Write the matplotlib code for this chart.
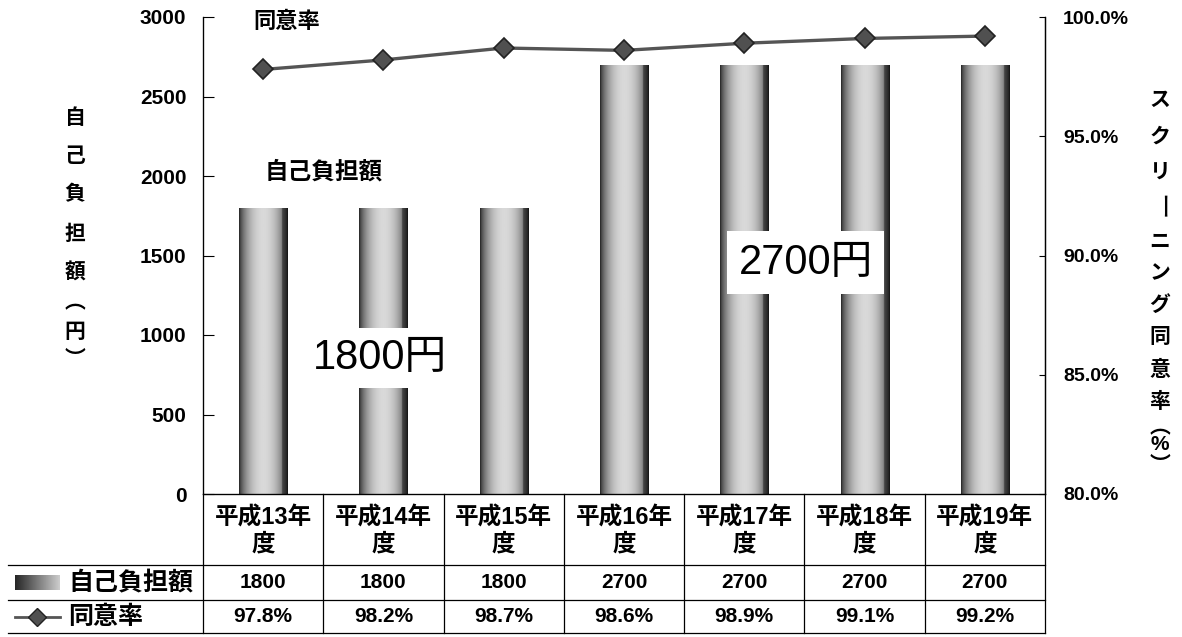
import numpy as np
import matplotlib
matplotlib.use("Agg")
import matplotlib.pyplot as plt
from matplotlib.transforms import blended_transform_factory
from matplotlib.lines import Line2D

plt.rcParams['font.family'] = ['Liberation Sans', 'Noto Sans CJK JP', 'DejaVu Sans']

# ---- data ----
categories = ["平成13年\n度", "平成14年\n度", "平成15年\n度", "平成16年\n度",
              "平成17年\n度", "平成18年\n度", "平成19年\n度"]
cost = [1800, 1800, 1800, 2700, 2700, 2700, 2700]
consent = [97.8, 98.2, 98.7, 98.6, 98.9, 99.1, 99.2]
cost_labels = ["1800", "1800", "1800", "2700", "2700", "2700", "2700"]
consent_labels = ["97.8%", "98.2%", "98.7%", "98.6%", "98.9%", "99.1%", "99.2%"]
left_ticks = [0, 500, 1000, 1500, 2000, 2500, 3000]
right_ticks = [80, 85, 90, 95, 100]
series_cost = "自己負担額"
series_consent = "同意率"
left_label = "自己負担額︵円︶"
right_label = "スクリーニング同意率︵%︶"

W, H = 1182, 637
fig = plt.figure(figsize=(W / 100, H / 100), dpi=100)
fig.patch.set_facecolor('white')

def fy(y):
    return 1 - y / H

def fx(x):
    return x / W

ax_l, ax_r, ax_t, ax_b = 203, 1045, 17, 494
ax = fig.add_axes([fx(ax_l), fy(ax_b), fx(ax_r) - fx(ax_l), fy(ax_t) - fy(ax_b)])
ax2 = ax.twinx()

x = np.arange(len(categories))

# gradient bars
t = np.linspace(0, 1, 256)
prof = 0.1 + 0.75 * np.clip(np.sin(np.pi * t), 0, 1) ** 0.6
prof = np.where(t > 0.88, prof * 0.55, prof)
grad = prof[np.newaxis, :]
bars = ax.bar(x, cost, width=0.4, color='none', edgecolor='none', zorder=2)
for b in bars:
    x0, w, h = b.get_x(), b.get_width(), b.get_height()
    im = ax.imshow(grad, extent=(x0, x0 + w, 0, h), aspect='auto', cmap='gray',
                   vmin=0, vmax=1, zorder=2, interpolation='bilinear')
    im.set_clip_path(b)

ax.set_xlim(-0.5, len(categories) - 0.5)
ax.set_ylim(0, 3000)
ax.set_yticks(left_ticks)
ax.set_yticklabels([str(v) for v in left_ticks])
ax.set_xticks([])
ax.tick_params(axis='y', direction='in', length=8, width=0.8, pad=12, labelsize=15)
for lab in ax.get_yticklabels():
    lab.set_fontweight('bold')
ax.spines['top'].set_visible(False)
for s in ['left', 'bottom', 'right']:
    ax.spines[s].set_linewidth(0.9)

# line on right axis
ax2.plot(x, consent, color='#555555', lw=2.4, marker='D', markersize=10,
         markerfacecolor='#505050', markeredgecolor='#222222', markeredgewidth=1.2,
         zorder=5)
ax2.set_ylim(80, 100)
ax2.set_yticks(right_ticks)
ax2.set_yticklabels([f"{v:.1f}%" for v in right_ticks])
ax2.tick_params(axis='y', direction='in', length=4, width=0.8, pad=13, labelsize=14)
for lab in ax2.get_yticklabels():
    lab.set_fontweight('bold')
ax2.spines['top'].set_visible(False)
ax2.spines['right'].set_linewidth(0.9)

# annotations
ax.text(0.2, 2965, series_consent, fontsize=16, fontweight='bold', ha='center', va='center', zorder=6)
ax.text(0.5, 2025, series_cost, fontsize=17, fontweight='bold', ha='center', va='center', zorder=6)
ax.text(0.97, 855, "1800円", fontsize=30, ha='center', va='center', zorder=6,
        bbox=dict(facecolor='white', edgecolor='none', pad=7))
ax.text(4.51, 1455, "2700円", fontsize=30, ha='center', va='center', zorder=6,
        bbox=dict(facecolor='white', edgecolor='none', pad=8))

# axis labels (vertical stacked)
ly = [118, 157, 195, 234, 273, 303, 333, 360]
for ch, yy in zip(left_label, ly):
    fig.text(fx(75), fy(yy), ch, fontsize=15, fontweight='bold', ha='center', va='center')
ry = [100, 137, 172, 207, 242, 274, 305, 337, 370, 402, 428, 445, 465]
for ch, yy in zip(right_label, ry):
    if ch == "ー":
        fig.text(fx(1160), fy(yy), ch, fontsize=19, fontweight='normal', ha='center',
                 va='center', rotation=-90)
    else:
        fig.text(fx(1160), fy(yy), ch, fontsize=15, fontweight='bold', ha='center',
                 va='center')

# data table
tb = blended_transform_factory(ax.transData, fig.transFigure)
bounds = np.arange(len(categories) + 1) - 0.5
for bx in bounds:
    fig.add_artist(Line2D([bx, bx], [fy(494), fy(633)], transform=tb, color='black', lw=0.9))
for yy in [565, 600, 633]:
    fig.add_artist(Line2D([fx(8), fx(ax_r)], [fy(yy), fy(yy)], transform=fig.transFigure,
                          color='black', lw=0.9))
for i, cat in enumerate(categories):
    fig.text(x[i], fy(531), cat, transform=tb, fontsize=17, fontweight='bold',
             ha='center', va='center', linespacing=1.15)
    fig.text(x[i], fy(583), cost_labels[i], transform=tb, fontsize=15, fontweight='bold',
             ha='center', va='center')
    fig.text(x[i], fy(617), consent_labels[i], transform=tb, fontsize=15, fontweight='bold',
             ha='center', va='center')

# legend keys in table
kax = fig.add_axes([fx(15), fy(590), fx(60) - fx(15), fy(575) - fy(590)])
kax.imshow(np.linspace(0.15, 0.8, 64)[np.newaxis, :], aspect='auto', cmap='gray', vmin=0, vmax=1)
kax.axis('off')
fig.text(fx(68), fy(583), series_cost, fontsize=18, fontweight='bold', ha='left', va='center')
fig.add_artist(Line2D([fx(15), fx(60)], [fy(617), fy(617)], transform=fig.transFigure,
                      color='#555555', lw=2))
fig.add_artist(Line2D([fx(37)], [fy(617)], transform=fig.transFigure, marker='D',
                      markersize=9, markerfacecolor='#505050', markeredgecolor='#222222'))
fig.text(fx(68), fy(617), series_consent, fontsize=18, fontweight='bold', ha='left', va='center')

fig.savefig("out.png", dpi=100, facecolor='white')
